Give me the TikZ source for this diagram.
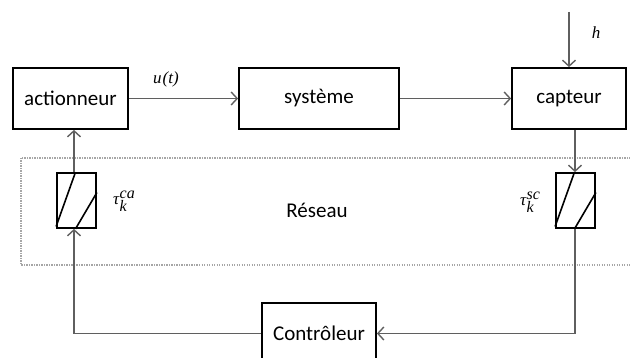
\documentclass[tikz,border=0pt]{standalone}
\usepackage{fontspec}
\setmainfont{Carlito}
\newfontfamily\serf{Liberation Serif}
\usetikzlibrary{arrows.meta}
\definecolor{conn}{HTML}{5F5F5F}
\definecolor{dotc}{HTML}{A6A6A6}
\newcommand{\taulbl}[1]{{\serf\itshape τ\kern0.5pt\raisebox{-7pt}{\fontsize{16}{18}\selectfont\rlap{k}}\raisebox{6pt}{\fontsize{16}{18}\selectfont #1}}}
\tikzset{
  blk/.style={draw=black, line width=1.8pt, minimum height=61pt, inner sep=0pt, font=\fontsize{21}{25}\selectfont},
  swbox/.style={draw=black, line width=1.8pt, minimum width=39pt, minimum height=55pt, inner sep=0pt},
  conn/.style={draw=conn, line width=1.4pt},
  arr/.style={conn, -{Straight Barb[length=6pt,width=13pt,line width=1.4pt]}},
  lbl/.style={font=\fontsize{17}{20}\selectfont\serf\itshape, inner sep=0pt},
  netbox/.style={draw=dotc, line width=1.2pt, dash pattern=on 1.2pt off 1.3pt}
}
\begin{document}
\begin{tikzpicture}[x=1pt,y=-1pt]
\useasboundingbox (0,0) rectangle (630,358);
% network region
\draw[netbox] (21,158) rectangle (660,265);
\node (net) at (317,210) {\fontsize{21}{25}\selectfont Réseau};
% blocks
\node[blk, minimum width=115pt] (act) at (70.5,98.5) {actionneur};
\node[blk, minimum width=160pt] (sys) at (319,98.5) {système};
\node[blk, minimum width=114pt] (cap) at (569,98.5) {capteur};
\node[blk, minimum width=114pt] (ctl) at (319,333.5) {Contrôleur};
% switches
\node[swbox] (swl) at (76.5,200.5) {};
\node[swbox] (swr) at (575.5,200.5) {};
\foreach \s in {swl,swr}{
  \draw[line width=1.6pt] ([yshift=-26pt]\s.west) -- ([xshift=-1pt]\s.north);
  \draw[line width=1.6pt] ([xshift=-1pt]\s.south) -- ([yshift=8pt]\s.east);
}
\node[lbl] (tca) at (124,201) {\taulbl{ca}};
\node[lbl] (tsc) at (530,202) {\taulbl{sc}};
% input h
\coordinate (hin) at (569,12);
\draw[arr] (hin) -- (cap.north);
\node[lbl] (hl) at (596,33) {h};
% forward path
\draw[arr] (act.east) -- (sys.west);
\node[lbl] (ul) at (166,79) {u\kern1pt(t)};
\draw[arr] (sys.east) -- (cap.west);
% sensor side
\coordinate (capout) at ([xshift=6pt]cap.south);
\draw[arr] (capout) -- (capout |- swr.north);
\draw[arr] (capout |- swr.south) |- (ctl.east);
% actuator side
\coordinate (swlt) at ([xshift=-2.5pt]swl.north);
\draw[arr] (swlt) -- (swlt |- act.south);
\draw[arr] (ctl.west) -| ([xshift=-2.5pt]swl.south);
\end{tikzpicture}
\end{document}
